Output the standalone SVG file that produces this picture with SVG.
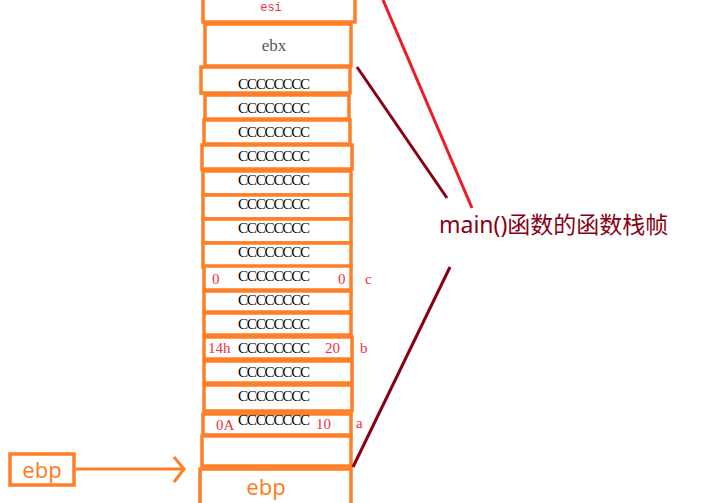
<svg xmlns="http://www.w3.org/2000/svg" width="716" height="503" viewBox="0 0 716 503">
<style>
.b{fill:#fff;stroke:#fe7f27;stroke-width:3.5}
.c{font-family:"Liberation Serif",serif;font-size:15px;fill:#000;text-anchor:middle}
.r{font-family:"Liberation Serif",serif;font-size:15px;fill:#f03040}
.o{font-family:"Noto Sans",sans-serif;font-size:22px;fill:#fe7f27;text-anchor:middle}
</style>
<rect width="716" height="503" fill="#fff"/>
<g id="esi"><rect class="b" x="203" y="-5" width="152" height="27"/><text x="271" y="11" font-family="Liberation Mono,monospace" text-anchor="middle" font-size="12" fill="#f03040">esi</text></g>
<g id="ebx"><rect class="b" x="205" y="24" width="146" height="42"/><text x="274" y="51" font-family="Liberation Serif,serif" text-anchor="middle" font-size="17" fill="#555">ebx</text></g>
<g id="stack">
<rect class="b" x="201" y="67" width="149" height="26"/><text class="c" x="274" y="89" textLength="72">CCCCCCCC</text>
<rect class="b" x="205" y="95" width="144" height="24"/><text class="c" x="274" y="113" textLength="72">CCCCCCCC</text>
<rect class="b" x="204" y="120" width="146" height="24"/><text class="c" x="274" y="137" textLength="72">CCCCCCCC</text>
<rect class="b" x="202" y="145" width="150" height="24"/><text class="c" x="274" y="161" textLength="72">CCCCCCCC</text>
<rect class="b" x="203" y="171" width="148" height="24"/><text class="c" x="274" y="185" textLength="72">CCCCCCCC</text>
<rect class="b" x="203" y="195" width="148" height="24"/><text class="c" x="274" y="209" textLength="72">CCCCCCCC</text>
<rect class="b" x="203" y="219" width="148" height="24"/><text class="c" x="274" y="233" textLength="72">CCCCCCCC</text>
<rect class="b" x="203" y="243" width="148" height="24"/><text class="c" x="274" y="257" textLength="72">CCCCCCCC</text>
<rect class="b" x="204" y="266" width="147" height="24"/><text class="c" x="274" y="281" textLength="72">CCCCCCCC</text>
<text class="r" x="212" y="284">0</text><text class="r" x="338" y="284">0</text><text class="r" x="365" y="284">c</text>
<rect class="b" x="204" y="291" width="147" height="21"/><text class="c" x="274" y="305" textLength="72">CCCCCCCC</text>
<rect class="b" x="204" y="313" width="147" height="22"/><text class="c" x="274" y="329" textLength="72">CCCCCCCC</text>
<rect class="b" x="204" y="337" width="148" height="22"/><text class="c" x="274" y="353" textLength="72">CCCCCCCC</text>
<text class="r" x="208" y="353">14h</text><text class="r" x="325" y="353">20</text><text class="r" x="360" y="353">b</text>
<rect class="b" x="204" y="361" width="148" height="22"/><text class="c" x="274" y="377" textLength="72">CCCCCCCC</text>
<rect class="b" x="204" y="385" width="148" height="26"/><text class="c" x="274" y="401" textLength="72">CCCCCCCC</text>
<rect class="b" x="203" y="414" width="148" height="21"/><text class="c" x="274" y="425" textLength="72">CCCCCCCC</text>
<text class="r" x="216" y="430">0A</text><text class="r" x="316" y="429">10</text><text class="r" x="356" y="428">a</text>
<rect class="b" x="202" y="436" width="149" height="30"/>
</g>
<g id="ebp"><rect class="b" x="200" y="469" width="151" height="40"/><text class="o" x="266" y="495">ebp</text></g>
<g id="ebp-label"><rect class="b" x="10" y="454" width="64" height="31"/><text class="o" x="42" y="478">ebp</text></g>
<g id="note"><text x="439" y="233" font-family="'Noto Sans','Noto Sans CJK SC',sans-serif" font-size="23" fill="#880015">main()函数的函数栈帧</text></g>
<g id="connectors" fill="none" stroke-width="3">
<line x1="383" y1="0" x2="472" y2="208" stroke="#ed1c24"/>
<line x1="357" y1="67" x2="447" y2="198" stroke="#880015"/>
<line x1="353" y1="467" x2="450" y2="267" stroke="#880015"/>
<path d="M76 469H183M174 457L184 469L174 482" stroke="#fe7f27"/>
</g>
</svg>
